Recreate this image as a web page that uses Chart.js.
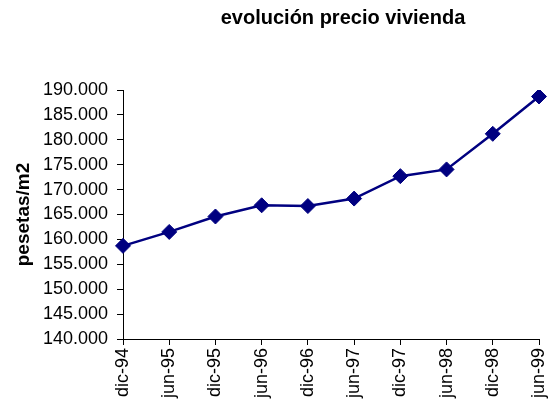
<!DOCTYPE html>
<html lang="es">
<head>
  <meta charset="UTF-8" />
  <title>evolución precio vivienda</title>
  <script src="https://cdn.jsdelivr.net/npm/chart.js"></script>
  <style>
    body {
      margin: 0;
      padding: 0;
      background: #fff;
    }
    .chart-container {
      width: 548px;
      height: 412px;
      position: relative;
    }
  </style>
</head>
<body>
  <div class="chart-container">
    <canvas id="precioChart"></canvas>
  </div>

  <script>
    const periodos = ['dic-94', 'jun-95', 'dic-95', 'jun-96', 'dic-96', 'jun-97', 'dic-97', 'jun-98', 'dic-98', 'jun-99'];
    const precios = [158700, 161500, 164600, 166850, 166700, 168200, 172700, 174050, 181200, 188700];
    const titulo = 'evolución precio vivienda';
    const ejeY = 'pesetas/m2';

    function formatoMiles(v) {
      return String(v).replace(/\B(?=(\d{3})+(?!\d))/g, '.');
    }

    // titulo dibujado a mano, centrado sobre el área del gráfico
    const tituloPlugin = {
      id: 'tituloPlugin',
      afterDraw(chart) {
        const ctx = chart.ctx;
        ctx.save();
        ctx.font = 'bold 20px "Liberation Sans", Arial, sans-serif';
        ctx.fillStyle = '#000';
        ctx.textAlign = 'center';
        ctx.textBaseline = 'alphabetic';
        ctx.fillText(titulo, 343, 24);
        ctx.restore();
      }
    };

    const ctx = document.getElementById('precioChart').getContext('2d');
    const precioChart = new Chart(ctx, {
      type: 'line',
      data: {
        labels: periodos,
        datasets: [{
          label: 'precio',
          data: precios,
          borderColor: '#000080',
          backgroundColor: '#000080',
          borderWidth: 2.5,
          pointStyle: 'rectRot',
          pointRadius: 7.5,
          pointBorderWidth: 1,
          pointBorderColor: '#000080',
          pointBackgroundColor: '#000080',
          fill: false,
          tension: 0
        }]
      },
      plugins: [tituloPlugin],
      options: {
        responsive: true,
        maintainAspectRatio: false,
        animation: false,
        layout: { padding: { top: 90, right: 9, left: 0, bottom: 0 } },
        plugins: {
          legend: { display: false },
          title: { display: false },
          tooltip: { enabled: false }
        },
        scales: {
          x: {
            offset: false,
            afterFit(scale) {
              scale.height = 73;
              scale.paddingLeft = 0;
              scale.paddingRight = 0;
            },
            border: { color: '#000', width: 1 },
            grid: { display: true, drawOnChartArea: false, color: '#000', tickLength: 6 },
            ticks: {
              color: '#000',
              minRotation: 90,
              maxRotation: 90,
              padding: 3,
              autoSkip: false,
              font: { family: '"Liberation Sans", Arial, sans-serif', size: 18 }
            }
          },
          y: {
            min: 140000,
            max: 190000,
            afterFit(scale) { scale.width = 123; },
            border: { color: '#000', width: 1 },
            grid: { display: true, drawOnChartArea: false, color: '#000', tickLength: 6 },
            title: {
              display: true,
              text: ejeY,
              color: '#000',
              padding: { top: 12, bottom: 0 },
              font: { family: '"Liberation Sans", Arial, sans-serif', size: 19, weight: 'bold' }
            },
            ticks: {
              stepSize: 5000,
              color: '#000',
              padding: 9,
              font: { family: '"Liberation Sans", Arial, sans-serif', size: 18 },
              callback: v => formatoMiles(v)
            }
          }
        }
      }
    });
  </script>
</body>
</html>
